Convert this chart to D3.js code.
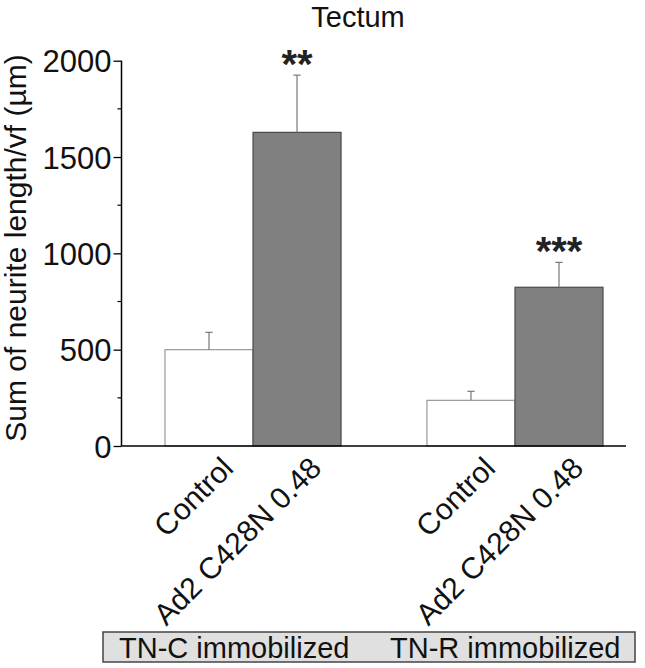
<!DOCTYPE html>
<html>
<head>
<meta charset="utf-8">
<script src="https://cdn.jsdelivr.net/npm/d3@7"></script>
<style>
  body { margin: 0; background: #fff; }
  svg { display: block; font-family: "Liberation Sans", Arial, sans-serif; }
</style>
</head>
<body>
<div id="chart"></div>
<script>
// data
const groups = ["TN-C immobilized", "TN-R immobilized"];
const series = ["Control", "Ad2 C428N 0.48"];
const means = [[500, 1628], [237, 824]];
const errors = [[90, 297], [47, 129]];
const stars = [["", "**"], ["", "***"]];
const yTicks = [0, 500, 1000, 1500, 2000];
const yMinor = [250, 750, 1250, 1750];

const width = 645, height = 668;
const svg = d3.select("#chart").append("svg")
  .attr("width", width).attr("height", height);

// plot frame
const plotLeft = 121.5, plotRight = 626, plotTop = 60.7, plotBottom = 446;

const y = d3.scaleLinear().domain([0, 2000]).range([plotBottom, plotTop]);

const x0 = d3.scaleBand()
  .domain(groups)
  .range([165, 603])
  .paddingInner(0.328)
  .paddingOuter(0);
const x1 = d3.scaleBand()
  .domain(series)
  .range([0, x0.bandwidth()]);

// flat rows for drawing
const rows = [];
groups.forEach((g, gi) => {
  series.forEach((s, si) => {
    rows.push({ g, s, si, v: means[gi][si], e: errors[gi][si], star: stars[gi][si] });
  });
});
const bx = d => x0(d.g) + x1(d.s);
const bc = d => bx(d) + x1.bandwidth() / 2;

// title
svg.append("text")
  .attr("x", 358).attr("y", 27)
  .attr("text-anchor", "middle")
  .style("font-size", "29px")
  .attr("fill", "#111")
  .text("Tectum");

// y axis
const yAxis = d3.axisLeft(y)
  .tickValues(yTicks)
  .tickSize(8)
  .tickPadding(2)
  .tickFormat(d3.format("d"));

const gy = svg.append("g")
  .attr("transform", `translate(${plotLeft},0)`)
  .call(yAxis);
gy.select(".domain").attr("stroke", "#000").attr("stroke-width", 1.5)
  .attr("d", `M0,${plotTop}V${plotBottom}`);
gy.selectAll(".tick line").attr("stroke", "#000").attr("stroke-width", 1.3);
gy.selectAll(".tick text")
  .style("font-size", "31px")
  .style("font-family", "'Liberation Sans', Arial, sans-serif")
  .attr("fill", "#111")
  .attr("dy", "0.36em");

// minor ticks
svg.append("g").selectAll("line")
  .data(yMinor).enter().append("line")
  .attr("x1", plotLeft - 4).attr("x2", plotLeft)
  .attr("y1", d => y(d)).attr("y2", d => y(d))
  .attr("stroke", "#000").attr("stroke-width", 1.2);

// y label
svg.append("text")
  .attr("transform", `translate(25.5,248) rotate(-90)`)
  .attr("text-anchor", "middle")
  .style("font-size", "30px")
  .attr("fill", "#111")
  .text("Sum of neurite length/vf (\u00b5m)");

// bars
svg.append("g").selectAll("rect")
  .data(rows).enter().append("rect")
  .attr("x", bx)
  .attr("y", d => y(d.v))
  .attr("width", x1.bandwidth())
  .attr("height", d => y(0) - y(d.v))
  .attr("fill", d => d.si ? "#808080" : "#fff")
  .attr("stroke", d => d.si ? "#4a4a4a" : "#999")
  .attr("stroke-width", 1.2);

// error bars (upper only)
const eb = svg.append("g");
eb.selectAll(".stem").data(rows).enter().append("line")
  .attr("x1", bc).attr("x2", bc)
  .attr("y1", d => y(d.v)).attr("y2", d => y(d.v + d.e))
  .attr("stroke", "#777").attr("stroke-width", 1.2);
eb.selectAll(".cap").data(rows).enter().append("line")
  .attr("x1", d => bc(d) - 3.6).attr("x2", d => bc(d) + 3.6)
  .attr("y1", d => y(d.v + d.e)).attr("y2", d => y(d.v + d.e))
  .attr("stroke", "#777").attr("stroke-width", 1.2);
eb.selectAll("text").data(rows.filter(d => d.star)).enter().append("text")
  .attr("x", bc).attr("y", d => y(d.v + d.e) + 3)
  .attr("text-anchor", "middle")
  .style("font-size", "40px")
  .attr("font-weight", "bold")
  .attr("fill", "#222")
  .text(d => d.star);

// x axis line
svg.append("line")
  .attr("x1", plotLeft).attr("x2", plotRight)
  .attr("y1", plotBottom).attr("y2", plotBottom)
  .attr("stroke", "#000").attr("stroke-width", 1.5);

// category labels, rotated
svg.append("g").selectAll("text")
  .data(rows).enter().append("text")
  .attr("transform", d => `translate(${bc(d) + 26},${plotBottom + 24}) rotate(-45)`)
  .attr("text-anchor", "end")
  .style("font-size", "30px")
  .attr("fill", "#111")
  .text(d => d.s);

// group box
svg.append("rect")
  .attr("x", 103).attr("y", 632)
  .attr("width", 532).attr("height", 30)
  .attr("fill", "#e0e0e0")
  .attr("stroke", "#444").attr("stroke-width", 1.5);

svg.append("g").selectAll("text")
  .data(groups).enter().append("text")
  .attr("x", (d, i) => i === 0 ? 119 : 390)
  .attr("y", 658)
  .style("font-size", "29px")
  .attr("fill", "#111")
  .text(d => d);
</script>
</body>
</html>
